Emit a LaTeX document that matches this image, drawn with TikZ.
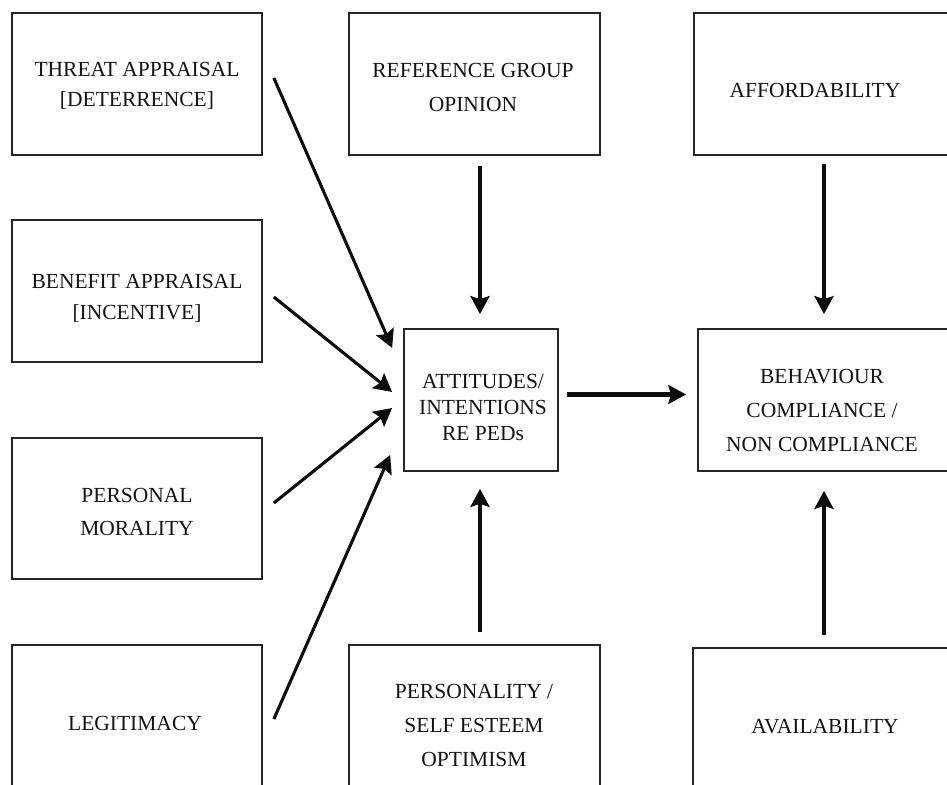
\documentclass[tikz,border=0pt]{standalone}
\usepackage{fontspec}
\setmainfont{Liberation Serif}
\usetikzlibrary{arrows.meta,calc}
\begin{document}
\begin{tikzpicture}[x=1pt,y=-1pt,
  box/.style={draw=black!85, line width=1.7pt, rectangle, inner sep=0pt},
  txt/.style={align=center, text=black!92, inner sep=0pt},
  tip/.style={-{Stealth[length=18pt,width=19pt,inset=3pt]}},
  varr/.style={tip, line width=4.4pt, draw=black!95},
  darr/.style={tip, line width=3.1pt, draw=black!95}]
\useasboundingbox (0,0) rectangle (947,784);
\fill[white] (0,0) rectangle (947,784);

% boxes
\node[box, minimum width=250pt, minimum height=142pt] (threat) at (137,84) {};
\node[box, minimum width=250pt, minimum height=142pt] (benefit) at (137,291) {};
\node[box, minimum width=250pt, minimum height=141pt] (moral) at (137,508.5) {};
\node[box, minimum width=250pt, minimum height=155pt] (legit) at (137,722.5) {};
\node[box, minimum width=251pt, minimum height=142pt] (ref) at (474.5,84) {};
\node[box, minimum width=154pt, minimum height=142pt] (att) at (481,400) {};
\node[box, minimum width=251pt, minimum height=158pt] (pers) at (474.5,724) {};
\node[box, minimum width=258pt, minimum height=142pt] (afford) at (823,84) {};
\node[box, minimum width=254pt, minimum height=142pt] (beh) at (825,400) {};
\node[box, minimum width=259pt, minimum height=158pt] (avail) at (822.5,727) {};

% texts
\node[txt, font=\fontsize{21.5}{30}\selectfont] (threattxt) at (137,86) {THREAT APPRAISAL\\{[}DETERRENCE{]}};
\node[txt, font=\fontsize{21.5}{31}\selectfont] (benefittxt) at (137,298) {BENEFIT APPRAISAL\\{[}INCENTIVE{]}};
\node[txt, font=\fontsize{21.5}{33}\selectfont] (moraltxt) at (137,512) {PERSONAL\\MORALITY};
\node[txt, font=\fontsize{21.5}{33}\selectfont] (legittxt) at (135,723) {LEGITIMACY};
\node[txt, font=\fontsize{21.5}{34}\selectfont] (reftxt) at (473,87) {REFERENCE GROUP\\OPINION};
\node[txt, font=\fontsize{21.5}{26}\selectfont] (atttxt) at (483,407) {ATTITUDES/\\INTENTIONS\\RE PEDs};
\node[txt, font=\fontsize{21.5}{34}\selectfont] (perstxt) at (474,725) {PERSONALITY /\\SELF ESTEEM\\OPTIMISM};
\node[txt, font=\fontsize{21.5}{34}\selectfont] (affordtxt) at (815,90) {AFFORDABILITY};
\node[txt, font=\fontsize{21.5}{34}\selectfont] (behtxt) at (822,410) {BEHAVIOUR\\COMPLIANCE /\\NON COMPLIANCE};
\node[txt, font=\fontsize{21.5}{34}\selectfont] (availtxt) at (825,727) {AVAILABILITY};

% connectors
\draw[darr] ($(threat.east)+(11,-6)$) -- ($(att.west)+(-11,-52)$);
\draw[darr] ($(benefit.east)+(11,6)$) -- ($(att.west)+(-11,-8)$);
\draw[darr] ($(moral.east)+(11,-5.5)$) -- ($(att.west)+(-11,8)$);
\draw[darr] ($(legit.east)+(11,-3.5)$) -- ($(att.west)+(-13,55)$);
\draw[varr] ($(ref.south)+(5.5,10)$) -- ($(att.north)+(-1,-14)$);
\draw[varr] ($(pers.north)+(5.5,-12)$) -- ($(att.south)+(-1,17)$);
\draw[varr] ($(att.east)+(8,-5.5)$) -- ($(beh.west)+(-11,-5.5)$);
\draw[varr] ($(afford.south)+(1,8)$) -- ($(beh.north)+(-1,-14)$);
\draw[varr] ($(avail.north)+(1.5,-12)$) -- ($(beh.south)+(-1,19)$);
\end{tikzpicture}
\end{document}
